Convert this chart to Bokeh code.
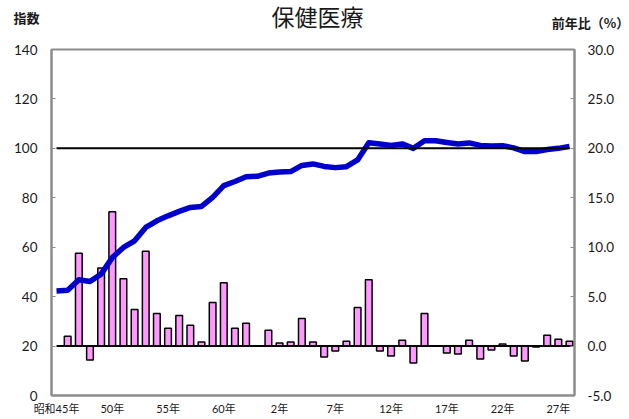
from bokeh.plotting import figure
from bokeh.layouts import column
from bokeh.models import Range1d, LinearAxis, FixedTicker, PrintfTickFormatter, Label
from bokeh.embed import file_html
from bokeh.resources import INLINE

# ---- data ----
years = list(range(1970, 2017))
index_vals = [42.3, 42.6, 46.8, 46.1, 49.1, 55.8, 59.9, 62.6, 68.0, 70.7,
              72.7, 74.5, 76.1, 76.5, 80.2, 84.9, 86.6, 88.5, 88.7, 90.0,
              90.4, 90.6, 93.1, 93.7, 92.7, 92.2, 92.6, 95.3, 102.3, 101.8,
              101.2, 101.8, 100.0, 103.1, 103.1, 102.4, 101.8, 102.2, 101.2, 101.0,
              101.1, 100.2, 98.7, 98.7, 99.5, 100.0, 100.8]
pct_years = list(range(1971, 2017))
pct_vals = [1.0, 9.4, -1.4, 7.9, 13.6, 6.8, 3.7, 9.6, 3.3, 1.8,
            3.1, 2.1, 0.4, 4.4, 6.4, 1.8, 2.3, 0.0, 1.6, 0.3,
            0.4, 2.8, 0.4, -1.1, -0.5, 0.5, 3.9, 6.7, -0.5, -1.0,
            0.6, -1.7, 3.3, 0.0, -0.7, -0.8, 0.6, -1.3, -0.4, 0.2,
            -1.0, -1.5, -0.1, 1.1, 0.7, 0.5]
base_index = 100
base_pct = 0
tick_years = [1970, 1975, 1980, 1985, 1990, 1995, 2000, 2005, 2010, 2015]
tick_labels = ["昭和45年", "50年", "55年", "60年", "2年", "7年", "12年", "17年", "22年", "27年"]
left_ticks = [0, 20, 40, 60, 80, 100, 120, 140]
right_ticks = [-5, 0, 5, 10, 15, 20, 25, 30]
title_text = "保健医療"
left_label = "指数"
right_label = "前年比（%）"

FONT = "Lato"
CJK = "Noto Sans CJK JP"
MIXED = "Lato, Noto Sans CJK JP"
GRAY = "#8c8c8c"
TXT = "#1a1a1a"

# ---- header strip (title and axis captions) ----
W = 629
HEAD_H = 32
head = figure(width=W, height=HEAD_H, output_backend="svg", toolbar_location=None,
              x_range=Range1d(0, W), y_range=Range1d(HEAD_H, 0),
              x_axis_location=None, y_axis_location=None, min_border=0)
head.frame_align = False
head.xgrid.visible = False
head.ygrid.visible = False
head.outline_line_color = None
head.add_layout(Label(x=317, y=15, text=title_text, text_align="center",
                      text_baseline="middle", text_font=CJK, text_font_size="23px",
                      text_color=TXT))
head.add_layout(Label(x=26, y=17, text=left_label, text_align="center",
                      text_baseline="middle", text_font=CJK, text_font_size="13px",
                      text_font_style="bold", text_color=TXT))
head.add_layout(Label(x=590, y=22, text=right_label, text_align="center",
                      text_baseline="middle", text_font=CJK, text_font_size="13px",
                      text_font_style="bold", text_color=TXT))

# ---- main chart ----
p = figure(width=W, height=419 - HEAD_H, output_backend="svg", toolbar_location=None,
           x_range=Range1d(1969.55, 2016.45), y_range=Range1d(0, 140),
           min_border_left=51, min_border_right=55, min_border_top=49 - HEAD_H,
           min_border_bottom=24)
p.frame_align = False
p.extra_y_ranges = {"pct": Range1d(-5, 30)}
p.xgrid.visible = False
p.ygrid.visible = False
p.outline_line_color = GRAY
p.outline_line_width = 2

# bars (right axis)
p.vbar(x=pct_years, top=pct_vals, bottom=base_pct, width=0.6, y_range_name="pct",
       fill_color="#FF99FF", line_color="black", line_width=1.5)
# index line
p.line(years, index_vals, line_color="#0000CC", line_width=5.5, line_join="round")
# reference lines
p.line([years[0], years[-1]], [base_index, base_index], line_color="black", line_width=2)
p.line([years[0], years[-1]], [base_pct, base_pct], y_range_name="pct",
       line_color="black", line_width=2)

# left axis
ly = p.yaxis[0]
ly.ticker = FixedTicker(ticks=left_ticks)
ly.axis_line_color = GRAY
ly.axis_line_width = 2
ly.major_tick_line_color = GRAY
ly.major_tick_in = 4
ly.major_tick_out = 0
ly.minor_tick_line_color = None
ly.major_label_standoff = 14
ly.major_label_text_font = FONT
ly.major_label_text_font_size = "13.5px"
ly.major_label_text_color = TXT

# right axis
ry = LinearAxis(y_range_name="pct", ticker=FixedTicker(ticks=right_ticks),
                formatter=PrintfTickFormatter(format="%.1f"))
ry.axis_line_color = GRAY
ry.axis_line_width = 2
ry.major_tick_line_color = GRAY
ry.major_tick_in = 4
ry.major_tick_out = 0
ry.minor_tick_line_color = None
ry.major_label_standoff = 13
ry.major_label_text_font = FONT
ry.major_label_text_font_size = "13.5px"
ry.major_label_text_color = TXT
p.add_layout(ry, "right")

# x axis
xa = p.xaxis[0]
xa.ticker = FixedTicker(ticks=tick_years)
xa.major_label_overrides = dict(zip(tick_years, tick_labels))
xa.axis_line_color = GRAY
xa.axis_line_width = 2
xa.major_tick_line_color = None
xa.minor_tick_line_color = None
xa.major_label_standoff = 0
xa.major_label_text_font = MIXED
xa.major_label_text_font_size = "11px"
xa.major_label_text_color = TXT

layout = column(head, p, spacing=0)
open("out.html", "w").write(file_html(layout, INLINE))
